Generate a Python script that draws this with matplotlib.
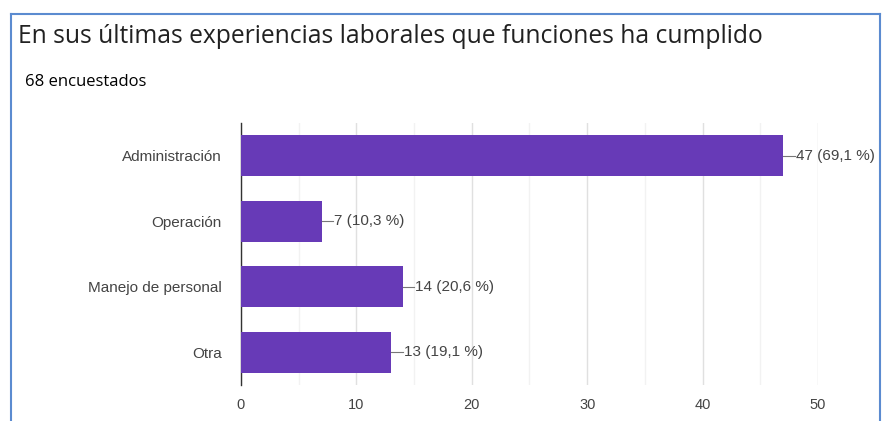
import matplotlib.pyplot as plt
from matplotlib.lines import Line2D
import numpy as np

categorias = ['Administración', 'Operación', 'Manejo de personal', 'Otra']
valores = [47, 7, 14, 13]
porcentajes = ['69,1', '10,3', '20,6', '19,1']
total = 68

plt.rcParams['font.family'] = ['Liberation Sans', 'DejaVu Sans']

fig = plt.figure(figsize=(8.84, 4.21), dpi=100)

# marco azul del recorte
fig.add_artist(Line2D([0.0125, 0.0125], [0, 0.967], color='#5b8bd0', lw=1.5))
fig.add_artist(Line2D([0.0125, 0.996], [0.967, 0.967], color='#5b8bd0', lw=1.5))
fig.add_artist(Line2D([0.996, 0.996], [0, 0.967], color='#5b8bd0', lw=1.5))

fig.text(0.020, 0.913, 'En sus últimas experiencias laborales que funciones ha cumplido',
         fontsize=17.7, color='#212121', va='center', ha='left',
         family=['Open Sans', 'DejaVu Sans'])
fig.text(0.028, 0.805, '%d encuestados' % total, fontsize=12, color='#000000',
         va='center', ha='left', family=['Open Sans', 'DejaVu Sans'])

ax = fig.add_axes([0.2726, 0.0855, 0.6527, 0.6223])
y = np.arange(len(categorias))
ax.barh(y, valores, height=0.62, color='#673ab7', zorder=3)

ax.set_xlim(0, 50)
ax.set_ylim(3.5, -0.5)
ax.set_yticks(y)
ax.set_yticklabels(categorias)
ax.set_xticks([0, 10, 20, 30, 40, 50])
ax.set_xticks([5, 15, 25, 35, 45], minor=True)
ax.grid(axis='x', which='major', color='#e0e0e0', lw=1, zorder=0)
ax.grid(axis='x', which='minor', color='#f2f2f2', lw=1, zorder=0)
ax.tick_params(axis='both', which='both', length=0, labelsize=11, labelcolor='#444444')
ax.tick_params(axis='x', labelsize=10.5)
ax.tick_params(axis='y', pad=14)
ax.tick_params(axis='x', pad=9)
for s in ['top', 'right', 'bottom']:
    ax.spines[s].set_visible(False)
ax.spines['left'].set_color('#333333')
ax.spines['left'].set_linewidth(1)
ax.set_axisbelow(True)

for yi, v, p in zip(y, valores, porcentajes):
    ax.plot([v, v + 1.0], [yi, yi], color='#777777', lw=0.8, clip_on=False, zorder=4)
    ax.text(v + 1.1, yi, '%d (%s %%)' % (v, p), fontsize=11, color='#444444',
            va='center', ha='left', clip_on=False)

fig.savefig('out.png', dpi=100)
